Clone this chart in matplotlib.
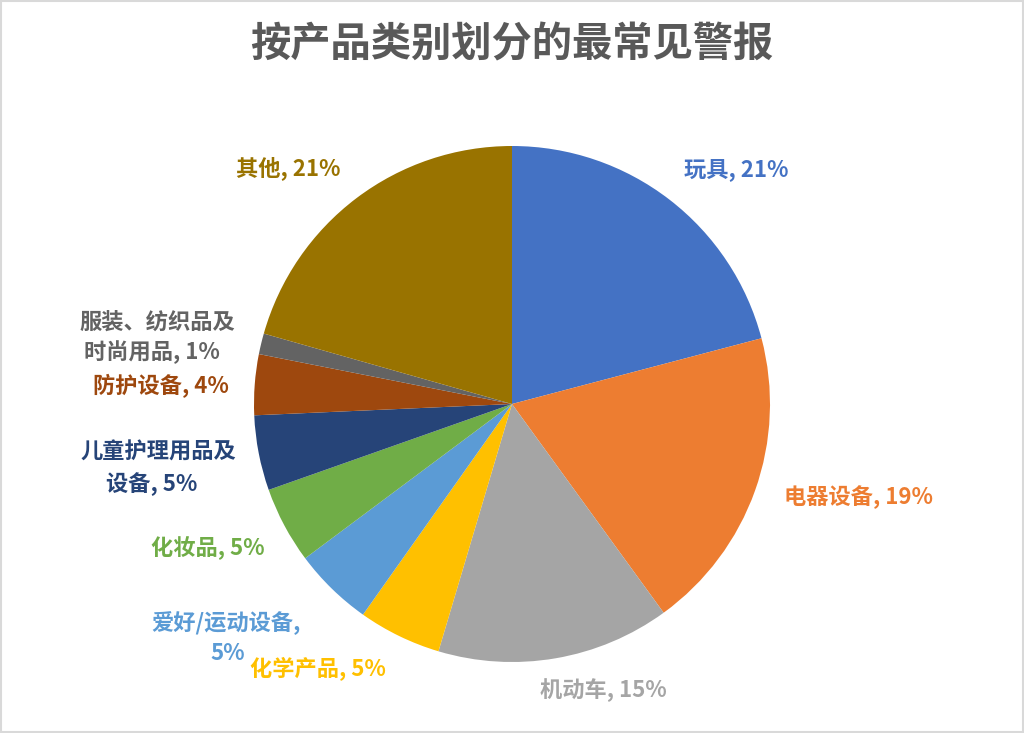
import matplotlib
matplotlib.use("Agg")
import matplotlib.pyplot as plt
from matplotlib.patches import Rectangle

plt.rcParams['font.family'] = ['Noto Sans CJK SC', 'DejaVu Sans']

categories = ['玩具', '电器设备', '机动车', '化学产品', '爱好/运动设备', '化妆品',
              '儿童护理用品及设备', '防护设备', '服装、纺织品及时尚用品', '其他']
values = [20.9, 19.1, 14.6, 5.2, 5.0, 4.8, 4.7, 3.8, 1.3, 20.6]
label_texts = ['玩具, 21%', '电器设备, 19%', '机动车, 15%', '化学产品, 5%',
               '爱好/运动设备,\n5%', '化妆品, 5%', '儿童护理用品及\n设备, 5%',
               '防护设备, 4%', '服装、纺织品及\n时尚用品, 1%', '其他, 21%']
colors = ['#4472C4', '#ED7D31', '#A5A5A5', '#FFC000', '#5B9BD5', '#70AD47',
          '#264478', '#9E480E', '#636363', '#997300']

# label centre positions in pixels (layout), for each line
label_px = [[(736, 170)], [(858, 497)], [(603, 690)], [(318, 669)],
            [(226, 623), (228, 654)], [(208, 548)], [(158, 452), (152, 484)],
            [(161, 386)], [(157, 322), (152, 352)], [(288, 168)]]

W, H = 1024, 733
fig = plt.figure(figsize=(W / 100, H / 100), dpi=100)
fig.patch.set_facecolor('white')
fig.patches.append(Rectangle((0.001, 0.001), 0.998, 0.998, transform=fig.transFigure,
                             fill=False, edgecolor='#D9D9D9', linewidth=1.5))

cx, cy, r = 512, 404, 258
ax = fig.add_axes([(cx - r) / W, (H - cy - r) / H, 2 * r / W, 2 * r / H])
ax.pie(values, colors=colors, startangle=90, counterclock=False, radius=1,
       wedgeprops=dict(linewidth=0))
ax.set_xlim(-1, 1)
ax.set_ylim(-1, 1)
ax.set_aspect('equal')
ax.axis('off')

for txt, pos, c in zip(label_texts, label_px, colors):
    for line, (px, py) in zip(txt.split('\n'), pos):
        ax.text((px - cx) / r, (cy - py) / r, line, color=c, fontsize=16,
                fontweight='bold', ha='center', va='center')

fig.text(0.5, 1 - 45 / H, '按产品类别划分的最常见警报', ha='center', va='center',
         fontsize=29, fontweight='bold', color='#595959')

fig.savefig('out.png', dpi=100)
